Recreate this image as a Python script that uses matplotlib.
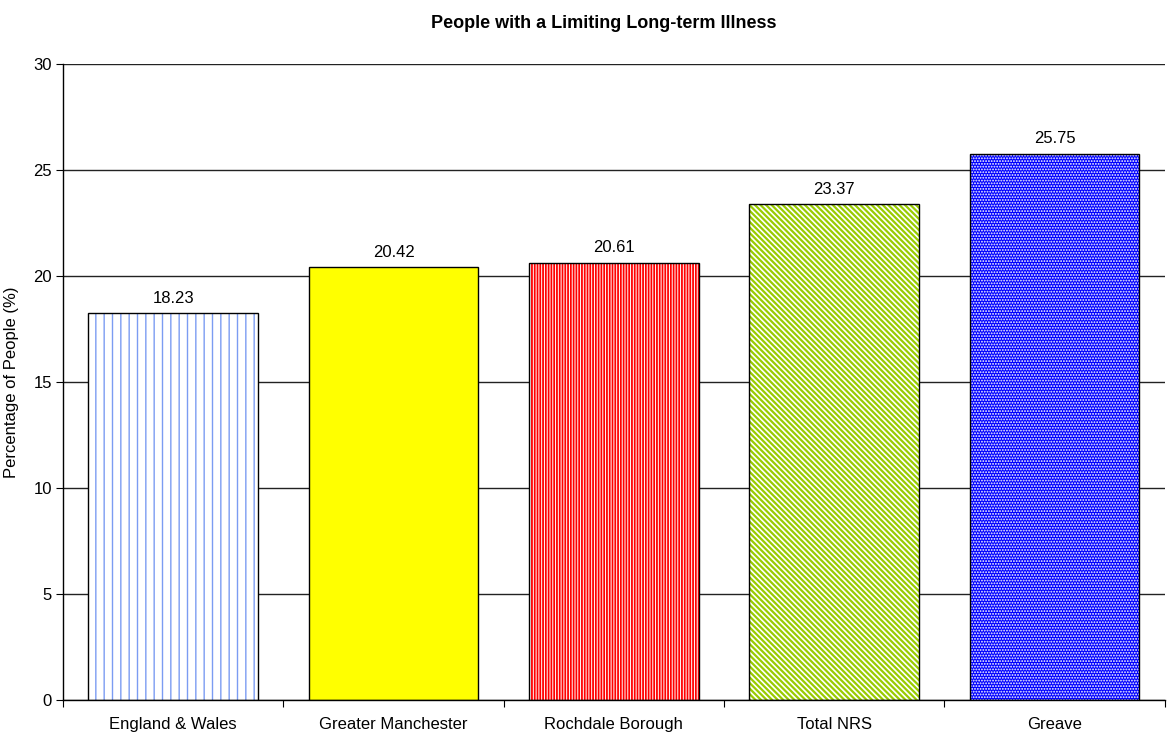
import numpy as np
import matplotlib
matplotlib.use("Agg")
import matplotlib.pyplot as plt

plt.rcParams["font.family"] = ["Liberation Sans", "DejaVu Sans"]

categories = ["England & Wales", "Greater Manchester", "Rochdale Borough", "Total NRS", "Greave"]
values = [18.23, 20.42, 20.61, 23.37, 25.75]

# fill / hatch styles per bar
faces = ["white", "#ffff00", "white", "white", "#0000ff"]
hatch_cols = ["#7b9cf2", "#ffff00", "#ff0000", "#99cc00", "white"]
hatches = ["||", None, "||||||", "\\\\\\\\\\\\", "......"]
hatch_lw = [1.0, 1.0, 1.3, 1.6, 0.9]

fig = plt.figure(figsize=(11.67, 7.33), dpi=100)
ax = fig.add_axes([0.054, 0.045, 0.944, 0.868])

x = np.arange(len(categories))
for i in range(len(categories)):
    plt.rcParams["hatch.linewidth"] = hatch_lw[i]
    ax.bar(x[i], values[i], width=0.77, color=faces[i], edgecolor=hatch_cols[i],
           hatch=hatches[i], linewidth=0, zorder=2)
    ax.bar(x[i], values[i], width=0.77, fill=False, edgecolor="black",
           linewidth=1.0, zorder=3)
    ax.text(x[i], values[i] + 0.35, f"{values[i]:.2f}", ha="center", va="bottom", fontsize=12)

ax.set_xlim(-0.5, len(categories) - 0.5)
ax.set_ylim(0, 30)
ax.set_yticks(range(0, 31, 5))
ax.yaxis.grid(True, color="#222222", linewidth=1.0, zorder=0)
ax.set_axisbelow(True)

ax.set_xticks(np.arange(-0.5, len(categories), 1.0))
ax.set_xticklabels([])
ax.set_xticks(x, minor=True)
ax.set_xticklabels(categories, minor=True, fontsize=12)
ax.tick_params(axis="x", which="minor", length=0, pad=12)
ax.tick_params(axis="x", which="major", length=5, direction="out")
ax.tick_params(axis="y", length=5, labelsize=12, pad=3)

ax.spines["top"].set_visible(False)
ax.spines["right"].set_visible(False)
for s in ["left", "bottom"]:
    ax.spines[s].set_linewidth(1.0)

ax.set_ylabel("Percentage of People (%)", fontsize=12, labelpad=10)
fig.suptitle("People with a Limiting Long-term Illness", fontsize=13, fontweight="bold",
             x=0.517, y=0.98)

fig.savefig("out.png", dpi=100)
